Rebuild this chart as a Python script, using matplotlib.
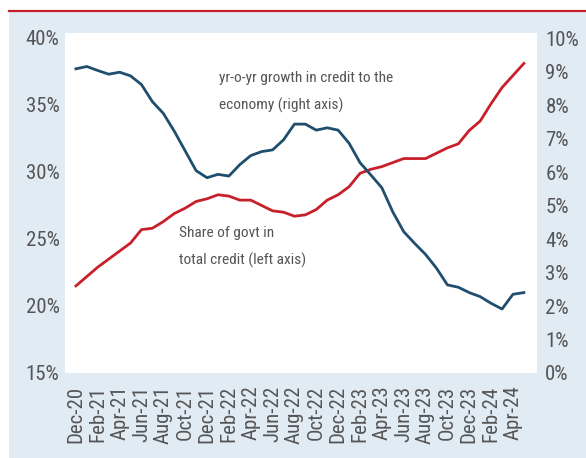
import numpy as np
import matplotlib
matplotlib.use("Agg")
from matplotlib import pyplot as plt
from matplotlib import font_manager
from matplotlib.textpath import TextPath
from matplotlib.transforms import ScaledTranslation
from matplotlib.patches import Rectangle
from matplotlib.lines import Line2D

# monthly, Dec-20 .. May-24
months = ["Dec-20", "Jan-21", "Feb-21", "Mar-21", "Apr-21", "May-21", "Jun-21",
          "Jul-21", "Aug-21", "Sep-21", "Oct-21", "Nov-21", "Dec-21", "Jan-22",
          "Feb-22", "Mar-22", "Apr-22", "May-22", "Jun-22", "Jul-22", "Aug-22",
          "Sep-22", "Oct-22", "Nov-22", "Dec-22", "Jan-23", "Feb-23", "Mar-23",
          "Apr-23", "May-23", "Jun-23", "Jul-23", "Aug-23", "Sep-23", "Oct-23",
          "Nov-23", "Dec-23", "Jan-24", "Feb-24", "Mar-24", "Apr-24", "May-24"]

# share of govt in total credit, % (left axis)
govt_share = [21.5, 22.2, 22.9, 23.5, 24.1, 24.7, 25.7, 25.8, 26.3, 26.9, 27.3,
              27.8, 28.0, 28.3, 28.2, 27.9, 27.9, 27.5, 27.1, 27.0, 26.7, 26.8,
              27.2, 27.9, 28.3, 28.9, 29.9, 30.2, 30.4, 30.7, 31.0, 31.0, 31.0,
              31.4, 31.8, 32.1, 33.1, 33.8, 35.1, 36.3, 37.2, 38.1]

# yr-o-yr growth in credit to the economy, % (right axis)
credit_growth = [9.08, 9.15, 9.03, 8.92, 8.98, 8.87, 8.61, 8.10, 7.75, 7.22, 6.63,
                 6.04, 5.83, 5.93, 5.88, 6.22, 6.49, 6.61, 6.66, 6.96, 7.43, 7.43,
                 7.25, 7.32, 7.25, 6.86, 6.28, 5.91, 5.53, 4.81, 4.22, 3.87, 3.54,
                 3.13, 2.63, 2.56, 2.40, 2.28, 2.08, 1.91, 2.35, 2.40]

left_ticks = [15, 20, 25, 30, 35, 40]
right_ticks = list(range(0, 11))

NOTE_GROWTH = "yr-o-yr growth in credit to the\neconomy (right axis)"
NOTE_SHARE = "Share of govt in\ntotal credit (left axis)"

RED = "#c8202a"
BLUE = "#1f4e6e"
BG = "#e1ebf4"
GREY = "#555555"
DPI = 100

PREFERRED = ["roboto condensed", "liberation sans narrow", "open sans condensed",
             "noto sans condensed", "dejavu sans condensed", "lato condensed"]


def pick_font():
    # a regular, proportional condensed face
    found = []
    for f in font_manager.fontManager.ttflist:
        name = f.name.lower()
        if "cjk" in name or "mono" in name or "code" in name:
            continue
        narrow = ("narrow" in name or "condensed" in name
                  or f.stretch in ("condensed", "semi-condensed"))
        if not narrow or f.style != "normal":
            continue
        if f.weight not in (400, "normal", "regular"):
            continue
        found.append(f)
    for want in PREFERRED:
        for f in found:
            if f.name.lower().startswith(want):
                return font_manager.FontProperties(fname=f.fname)
    if found:
        return font_manager.FontProperties(fname=found[0].fname)
    return font_manager.FontProperties(family="DejaVu Sans")


def size_for(s, prop, px):
    # point size that gives string s a width of px pixels
    w = TextPath((0, 0), s, size=100, prop=prop).get_extents().width / 100
    return px / w * 72 / DPI


FONT = pick_font()
NOTE_SIZE = min(size_for("yr-o-yr growth in credit to the", FONT, 173), 14)
TICK_SIZE = min(size_for("Dec-20", FONT, 64), 15)

W, H = 586, 458
fig = plt.figure(figsize=(W / DPI, H / DPI), dpi=DPI)
fig.patch.set_facecolor("white")

# panel background and red rule on top
fig.add_artist(Rectangle((9 / W, 0), 1 - 9 / W, 1 - 12 / H,
                         transform=fig.transFigure, facecolor=BG,
                         edgecolor="none", zorder=0))
fig.add_artist(Line2D([9 / W, 1], [1 - 10.5 / H, 1 - 10.5 / H],
                      transform=fig.transFigure, color=RED, lw=1.6))

ax = fig.add_axes([65 / W, 1 - 373 / H, (537 - 65) / W, (373 - 33) / H])
ax.set_facecolor("white")
ax2 = ax.twinx()

x = np.arange(len(months))
ax.plot(x, govt_share, color=RED, lw=2.0, zorder=3)
ax2.plot(x, credit_growth, color=BLUE, lw=2.0, zorder=3)

ax.set_xlim(-1, 42.2)
ax.set_ylim(15, 40.37)
ax2.set_ylim(0, 10.15)

ax.set_yticks(left_ticks)
ax.set_yticklabels([f"{t}%" for t in left_ticks])
ax2.set_yticks(right_ticks)
ax2.set_yticklabels([f"{t}%" for t in right_ticks])
ax.set_xticks(x[::2])
ax.set_xticklabels(months[::2], rotation=90)

# y labels sit a few pixels low
drop = ScaledTranslation(0, -4 / DPI, fig.dpi_scale_trans)
for a in (ax, ax2):
    for s in a.spines.values():
        s.set_visible(False)
    a.tick_params(length=0, labelcolor=GREY)
    for lab in a.get_xticklabels() + a.get_yticklabels():
        lab.set_fontproperties(FONT)
        lab.set_fontsize(TICK_SIZE)
    for lab in a.get_yticklabels():
        lab.set_transform(lab.get_transform() + drop)
ax.tick_params(axis="y", pad=4)
ax.tick_params(axis="x", pad=9)
ax2.tick_params(axis="y", pad=6)

ax.text(13.1, 35.95, NOTE_GROWTH, fontproperties=FONT, fontsize=NOTE_SIZE,
        color=GREY, va="center", linespacing=2.05)
ax.text(9.4, 24.4, NOTE_SHARE, fontproperties=FONT, fontsize=NOTE_SIZE,
        color=GREY, va="center", linespacing=2.05)

fig.savefig("out.png", dpi=DPI)
